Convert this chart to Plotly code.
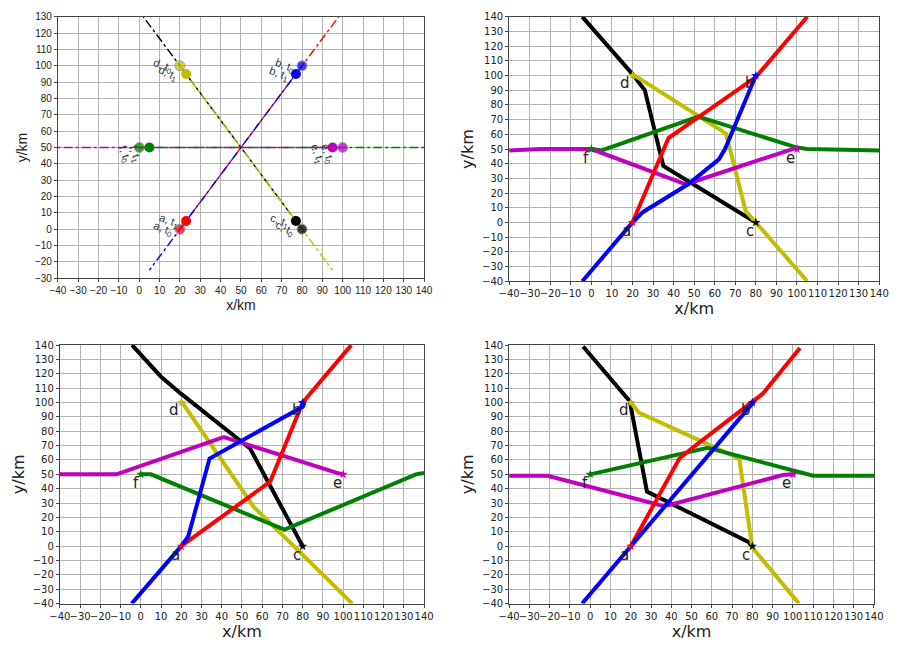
import plotly.graph_objects as go

# ---------------- panel 1: straight-line paths, positions at t0 and t1 ----------------
p1_a_x = [20, 98];   p1_a_y = [0, 130]
p1_b_x = [80, 5];    p1_b_y = [100, -25]
p1_c_x = [80, 2];    p1_c_y = [0, 130]
p1_d_x = [20, 95];   p1_d_y = [100, -25]
p1_e_x = [100, -40]; p1_e_y = [50, 50]
p1_f_x = [0, 140];   p1_f_y = [50, 50]

names = ["a", "b", "c", "d", "e", "f"]
t0_x = [20, 80, 80, 20, 100, 0]
t0_y = [0, 100, 0, 100, 50, 50]
t1_x = [23, 77, 77, 23, 95, 5]
t1_y = [5, 95, 5, 95, 50, 50]

# ---------------- panel 2 ----------------
p2_a_x = [20, 37.5, 80, 105];            p2_a_y = [0, 57.5, 99, 140]
p2_b_x = [80, 65, 62, 47, 25, 20, -4.4]; p2_b_y = [100, 50, 43, 26, 7, 0, -40]
p2_c_x = [80, 35, 26, 20, -4.4];         p2_c_y = [0, 38.5, 90, 101, 140]
p2_d_x = [20, 65.5, 75, 80, 105];        p2_d_y = [101, 60.5, 8, 0, -40]
p2_e_x = [100, 46, 0, -25, -40];         p2_e_y = [51, 26, 50, 50, 49]
p2_f_x = [0, 5, 52, 100, 105, 140];      p2_f_y = [50, 49, 72, 51, 50, 49]

# ---------------- panel 3 ----------------
p3_a_x = [20, 64, 80, 104];              p3_a_y = [0, 45, 100, 140]
p3_b_x = [81, 80, 34, 23.5, 20, -4.5];   p3_b_y = [100, 97, 61, 7, 0, -40]
p3_c_x = [80, 54, 20, 10, -4.3];         p3_c_y = [0, 68, 106, 118, 140]
p3_d_x = [20, 56, 80, 104.5];            p3_d_y = [101, 27, -6, -40]
p3_e_x = [100, 97, 41, -12, -40];        p3_e_y = [50, 51, 76, 50, 50]
p3_f_x = [0, 5, 71, 136, 140];           p3_f_y = [50, 50, 11.5, 50, 51]

# ---------------- panel 4 ----------------
p4_a_x = [20, 44, 50, 80, 85, 103.5];    p4_a_y = [0, 61, 68, 100, 106, 138]
p4_b_x = [81, -4];                       p4_b_y = [101, -40]
p4_c_x = [80, 78, 28, 21, 19.5, -3.5];   p4_c_y = [0, 3, 38, 93, 101, 139]
p4_d_x = [20, 24, 73.5, 80, 103];        p4_d_y = [100, 93, 61, -1, -40]
p4_e_x = [100, 95, 40, 36, -21, -40];    p4_e_y = [50, 49.5, 29, 28, 49, 49]
p4_f_x = [0, 58, 110, 140];              p4_f_y = [50, 68.5, 49, 49]

# letter labels for panels 2-4 (text placed below-left of each start point)
lab_x = [17, 77, 77, 16.5, 97, -2.5]
lab_y = [-6, 95, -6, 95, 44, 44]

COL = {"a": "#ff0000", "b": "#0000ff", "c": "#000000",
       "d": "#bfbf00", "e": "#bf00bf", "f": "#008000"}

FONT = "DejaVu Sans"
fig = go.Figure()

panel1 = {"a": (p1_a_x, p1_a_y), "b": (p1_b_x, p1_b_y), "c": (p1_c_x, p1_c_y),
          "d": (p1_d_x, p1_d_y), "e": (p1_e_x, p1_e_y), "f": (p1_f_x, p1_f_y)}
for k in ["e", "f", "c", "d", "a", "b"]:
    xs, ys = panel1[k]
    fig.add_trace(go.Scatter(x=xs, y=ys, mode="lines", xaxis="x", yaxis="y",
                             line=dict(color=COL[k], width=1.4, dash="dashdot"),
                             showlegend=False, hoverinfo="skip"))
for i, k in enumerate(names):
    fig.add_trace(go.Scatter(x=[t0_x[i]], y=[t0_y[i]], mode="markers", xaxis="x", yaxis="y",
                             marker=dict(color=COL[k], size=10, opacity=0.75,
                                         line=dict(color="#888888", width=1)),
                             showlegend=False, hoverinfo="skip"))
    fig.add_trace(go.Scatter(x=[t1_x[i]], y=[t1_y[i]], mode="markers", xaxis="x", yaxis="y",
                             marker=dict(color=COL[k], size=10),
                             showlegend=False, hoverinfo="skip"))

panels = [
    ("x2", "y2", {"a": (p2_a_x, p2_a_y), "b": (p2_b_x, p2_b_y), "c": (p2_c_x, p2_c_y),
                  "d": (p2_d_x, p2_d_y), "e": (p2_e_x, p2_e_y), "f": (p2_f_x, p2_f_y)}),
    ("x3", "y3", {"a": (p3_a_x, p3_a_y), "b": (p3_b_x, p3_b_y), "c": (p3_c_x, p3_c_y),
                  "d": (p3_d_x, p3_d_y), "e": (p3_e_x, p3_e_y), "f": (p3_f_x, p3_f_y)}),
    ("x4", "y4", {"a": (p4_a_x, p4_a_y), "b": (p4_b_x, p4_b_y), "c": (p4_c_x, p4_c_y),
                  "d": (p4_d_x, p4_d_y), "e": (p4_e_x, p4_e_y), "f": (p4_f_x, p4_f_y)}),
]
for xa, ya, trajs in panels:
    for k in ["c", "d", "f", "e", "a", "b"]:
        xs, ys = trajs[k]
        fig.add_trace(go.Scatter(x=xs, y=ys, mode="lines", xaxis=xa, yaxis=ya,
                                 line=dict(color=COL[k], width=4),
                                 showlegend=False, hoverinfo="skip"))
    for i, k in enumerate(names):
        fig.add_trace(go.Scatter(x=[t0_x[i]], y=[t0_y[i]], mode="markers", xaxis=xa, yaxis=ya,
                                 marker=dict(color=COL[k], size=7, symbol="star"),
                                 showlegend=False, hoverinfo="skip"))

annotations = []
# rotated t0 / t1 tags in panel 1
tags = [
    ("a, t<sub>1</sub>", 23, 5, 20, 0), ("a, t<sub>0</sub>", 20, 0, 20, 0),
    ("b, t<sub>0</sub>", 80, 100, 20, 0), ("b, t<sub>1</sub>", 77, 95, 20, 0),
    ("c, t<sub>1</sub>", 77, 5, 20, 0), ("c, t<sub>0</sub>", 80, 0, 25, 0),
    ("d, t<sub>0</sub>", 20, 100, 20, 0), ("d, t<sub>1</sub>", 23, 95, 25, 0),
    ("f, t<sub>0</sub>", 0, 50, 70, -4), ("f, t<sub>1</sub>", 5, 50, 70, -4),
    ("e, t<sub>1</sub>", 95, 50, 70, -4), ("e, t<sub>0</sub>", 100, 50, 70, -4),
]
for txt, x, y, ang, dy in tags:
    annotations.append(dict(x=x, y=y + dy, xref="x", yref="y", text=txt, showarrow=False,
                            textangle=ang, xanchor="right", yanchor="middle", xshift=-3,
                            font=dict(family="Liberation Sans", size=11, color="#333333")))
for xr, yr in [("x2", "y2"), ("x3", "y3"), ("x4", "y4")]:
    for i, k in enumerate(names):
        annotations.append(dict(x=lab_x[i], y=lab_y[i], xref=xr, yref=yr, text=k, showarrow=False,
                                font=dict(family=FONT, size=15, color="#222222")))


def axis(domain, rng, anchor, title, tick_font, title_font):
    return dict(domain=domain, range=rng, anchor=anchor, dtick=10, tick0=0,
                showgrid=True, gridcolor="#b4b4b4", gridwidth=1, zeroline=False,
                showline=True, linecolor="#444444", linewidth=1, mirror=True,
                ticks="outside", ticklen=3, tickcolor="#444444", tickangle=0,
                tickfont=tick_font, title=dict(text=title, font=title_font, standoff=4))


tf1 = dict(family="Liberation Sans", size=10, color="#222222")
tt1 = dict(family="Liberation Sans", size=14, color="#222222")
tf = dict(family=FONT, size=10, color="#222222")
tt = dict(family=FONT, size=16, color="#222222")

fig.update_layout(
    width=898, height=646, margin=dict(l=0, r=0, t=0, b=0),
    paper_bgcolor="white", plot_bgcolor="white", showlegend=False,
    xaxis=axis([0.0535, 0.471], [-40, 140], "y", "x/km", tf1, tt1),
    yaxis=axis([0.5697, 0.9814], [-30, 130], "x", "y/km", tf1, tt1),
    xaxis2=axis([0.568, 0.99], [-40, 140], "y2", "x/km", tf, tt),
    yaxis2=axis([0.565, 0.9814], [-40, 140], "x2", "y/km", tf, tt),
    xaxis3=axis([0.0557, 0.471], [-40, 140], "y3", "x/km", tf, tt),
    yaxis3=axis([0.0573, 0.4644], [-40, 140], "x3", "y/km", tf, tt),
    xaxis4=axis([0.568, 0.984], [-40, 140], "y4", "x/km", tf, tt),
    yaxis4=axis([0.0573, 0.4644], [-40, 140], "x4", "y/km", tf, tt),
    annotations=annotations,
)

fig.write_html("out.html")
